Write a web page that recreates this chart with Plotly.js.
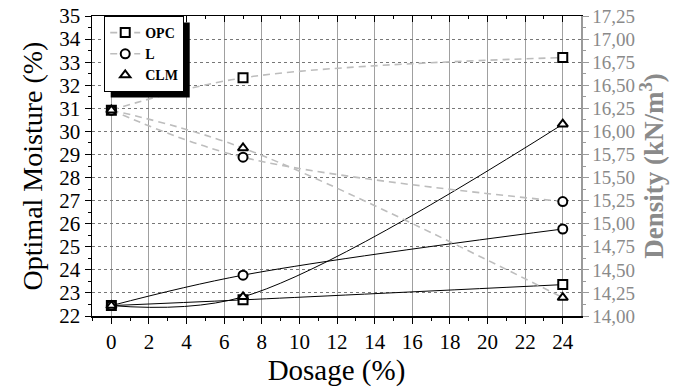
<!DOCTYPE html>
<html>
<head>
<meta charset="utf-8">
<script src="https://cdn.plot.ly/plotly-3.0.1.min.js"></script>
<style>
html,body{margin:0;padding:0;background:#fff;}
#chart{width:673px;height:387px;}
</style>
</head>
<body>
<div id="chart"></div>
<script>
// Data
var dosage = [0, 7, 24];
var moistureOPC = [22.45, 22.70, 23.36];
var moistureL   = [22.45, 23.77, 25.77];
var moistureCLM = [22.45, 22.83, 30.31];
var densityOPC  = [16.23, 16.58, 16.80];
var densityL    = [16.23, 15.72, 15.24];
var densityCLM  = [16.23, 15.82, 14.20];
var seriesNames = ['OPC', 'L', 'CLM'];
var xTickVals = [0, 2, 4, 6, 8, 10, 12, 14, 16, 18, 20, 22, 24];

var serif = 'Liberation Serif, Times New Roman, serif';
var gray = '#9a9a9a';
var dashGray = '#bdbdbd';
var mk = function (sym) { return {symbol: sym, size: 9, color: '#fff', line: {color: '#000', width: 2}}; };

function solidLine(y) {
  return {x: dosage, y: y, mode: 'lines', xaxis: 'x', yaxis: 'y',
    line: {color: '#000', width: 1, shape: 'spline', smoothing: 1},
    showlegend: false, hoverinfo: 'skip'};
}
var dashStyle = {color: dashGray, width: 1.6, dash: '7px,5px', shape: 'spline', smoothing: 1};

var traces = [
  solidLine(moistureOPC), solidLine(moistureL), solidLine(moistureCLM),
  {x: dosage, y: densityCLM, mode: 'lines', xaxis: 'x2', yaxis: 'y2', line: dashStyle,
   showlegend: false, hoverinfo: 'skip'},
  {x: dosage, y: densityOPC, name: seriesNames[0], mode: 'lines+markers', xaxis: 'x2', yaxis: 'y2',
   line: dashStyle, marker: mk('square')},
  {x: dosage, y: densityL, name: seriesNames[1], mode: 'lines+markers', xaxis: 'x2', yaxis: 'y2',
   line: dashStyle, marker: mk('circle')},
  {x: dosage, y: densityCLM, name: seriesNames[2], mode: 'markers', xaxis: 'x2', yaxis: 'y2',
   marker: mk('triangle-up')},
  {x: dosage, y: moistureOPC, mode: 'markers', showlegend: false, marker: mk('square')},
  {x: dosage, y: moistureL, mode: 'markers', showlegend: false, marker: mk('circle')},
  {x: dosage, y: moistureCLM, mode: 'markers', showlegend: false, marker: mk('triangle-up')}
];

var xr = [-1.03, 24.97];
var layout = {
  width: 673, height: 387,
  margin: {l: 92, r: 92, t: 16, b: 71, pad: 0},
  paper_bgcolor: '#fff', plot_bgcolor: '#fff',
  font: {family: serif, color: '#000'},
  showlegend: true,
  legend: {x: 0.025, y: 1, xanchor: 'left', yanchor: 'top',
    bgcolor: '#fff', bordercolor: '#000', borderwidth: 1,
    font: {family: serif, size: 14, color: '#000', weight: 'bold'},
    tracegroupgap: 0, itemwidth: 30},
  xaxis: {range: xr, tickvals: xTickVals, ticks: 'outside', ticklen: 6, tickwidth: 1,
    tickcolor: '#000', showline: true, linecolor: '#000', linewidth: 1.5,
    showgrid: true, gridcolor: '#a0a0a0', gridwidth: 1, zeroline: false,
    minor: {dtick: 1, tick0: 0, ticks: 'outside', ticklen: 3, tickcolor: '#000', showgrid: false},
    tickfont: {family: serif, size: 21, color: '#000'},
    title: {text: 'Dosage (%)', font: {family: serif, size: 29, color: '#000'}, standoff: 2}},
  xaxis2: {range: xr, overlaying: 'x', side: 'top', anchor: 'y', tickvals: xTickVals,
    ticks: 'inside', ticklen: 6, tickcolor: '#000', showticklabels: false,
    showline: true, linecolor: '#000', linewidth: 1.5, showgrid: false, zeroline: false,
    minor: {dtick: 1, tick0: 0, ticks: 'inside', ticklen: 3, tickcolor: '#000'}},
  yaxis: {range: [22, 35], dtick: 1, tick0: 22, ticks: 'outside', ticklen: 6, tickcolor: '#000',
    showline: true, linecolor: '#000', linewidth: 1.5, zeroline: false,
    showgrid: true, gridcolor: '#777', gridwidth: 1, griddash: 'dot',
    minor: {dtick: 0.5, ticks: 'outside', ticklen: 3, tickcolor: '#000', showgrid: false},
    tickfont: {family: serif, size: 21, color: '#000'},
    title: {text: 'Optimal Moisture (%)', font: {family: serif, size: 28, color: '#000'}, standoff: 8}},
  yaxis2: {range: [14, 17.25], dtick: 0.25, tick0: 14, overlaying: 'y', side: 'right', anchor: 'x',
    ticks: 'outside', ticklen: 6, tickcolor: gray, showline: true, linecolor: gray, linewidth: 1.5,
    showgrid: false, zeroline: false, tickformat: '.2f',
    minor: {dtick: 0.125, ticks: 'outside', ticklen: 3, tickcolor: gray},
    tickfont: {family: serif, size: 19, color: '#8a8a8a'},
    title: {text: '<b>Density (kN/m<sup>3</sup>)</b>', font: {family: serif, size: 27, color: '#8a8a8a'}, standoff: 6}},
  separators: ', ',
  shapes: []
};

Plotly.newPlot('chart', traces, layout, {displayModeBar: false, staticPlot: true}).then(function (gd) {
  // drop shadow behind the legend box, offset 6px right and down
  var bg = gd.querySelector('.legend .bg');
  if (!bg) return;
  var r = bg.getBoundingClientRect();
  var c = gd.getBoundingClientRect();
  var fs = gd._fullLayout._size;
  var toX = function (px) { return (px - c.left - fs.l) / fs.w; };
  var toY = function (py) { return 1 - (py - c.top - fs.t) / fs.h; };
  var off = 6;
  Plotly.relayout(gd, {shapes: [{type: 'rect', xref: 'paper', yref: 'paper', layer: 'above',
    x0: toX(r.left + off), x1: toX(r.right + off), y0: toY(r.bottom + off), y1: toY(r.top + off),
    fillcolor: '#000', line: {width: 0}}]});
});
</script>
</body>
</html>
